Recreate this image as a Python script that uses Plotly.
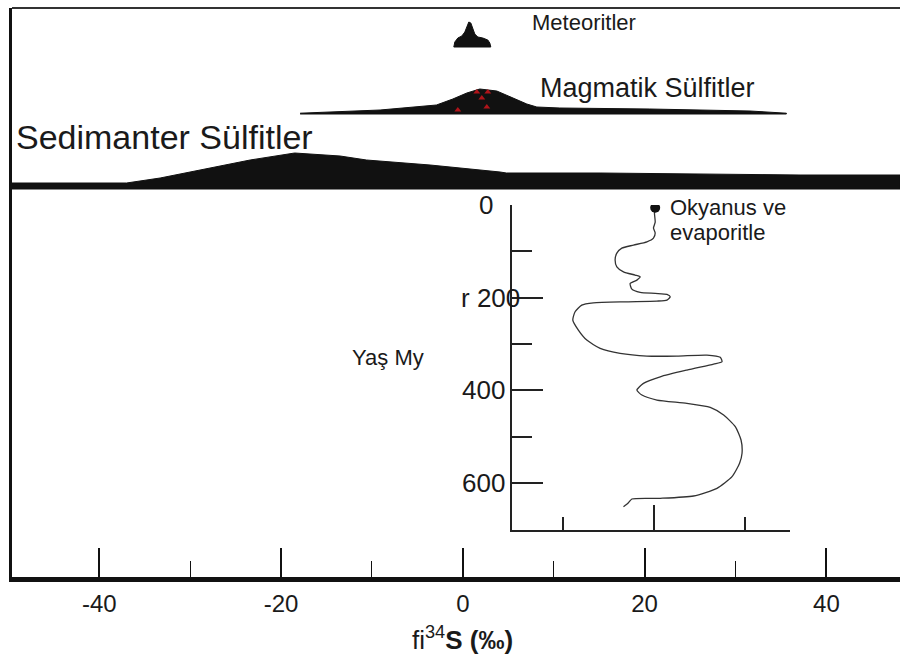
import plotly.graph_objects as go

# ---------------- data ----------------
# delta34S (permil) positions and relative heights of the three source distributions
sed_x = [-49.6, -37.0, -33.3, -28.9, -23.4, -18.5, -13.5, -10.6, -3.6, 4.1, 4.8, 15.1, 26.1, 37.1, 48.1]
sed_h = [6, 6, 11, 19, 29, 36, 33, 29, 24, 17, 16, 16, 15, 14, 14]

mag_x = [-17.9, -9.1, -2.9, -1.1, 0.44, 1.87, 3.74, 5.5, 7.04, 8.14, 10.67, 20.57, 31.6, 35.6]
mag_h = [0.8, 4, 9, 15, 21, 25, 23, 16, 10, 7, 6, 5, 3, 0.8]

met_x = [-0.99, -0.88, -0.55, -0.11, 0.22, 0.44, 0.66, 0.88, 1.1, 1.32, 1.65, 2.2, 2.75, 2.97, 3.08]
met_h = [0, 5, 9, 11, 15, 21, 25, 24, 19, 13, 10, 9, 7, 4, 0]

# red triangles inside the magmatic hump
tri_x = [1.54, 2.75, 2.09, -0.55, 2.64]
tri_h = [22, 22, 16, 4, 7]

# seawater / evaporite delta34S curve vs age (My)
sw_d34 = [20.11, 20.03, 20.11, 19.92, 20.11, 19.92, 19.2, 17.73, 16.45, 15.9, 15.71, 15.9, 16.63,
          17.91, 18.46, 18.10, 17.36, 17.55, 18.46, 20.11, 21.40, 21.76, 21.40, 20.30, 17.0, 13.33,
          12.05, 11.32, 11.07, 11.68, 12.60, 14.07, 16.26, 19.20, 22.49, 25.79, 27.25, 27.44, 26.52,
          23.59, 20.66, 18.82, 18.10, 18.65, 20.30, 23.59, 26.15, 27.62, 28.90, 29.53, 29.64, 29.37,
          28.54, 26.89, 24.32, 20.66, 17.55, 17.18, 16.63]
sw_age = [5.8, 17.3, 36.7, 49.6, 60.4, 71.2, 79.2, 86.3, 92.8, 103.6, 118.7, 133.2, 144.0,
          151.1, 154.8, 161.9, 169.0, 181.3, 188.4, 190.6, 192.7, 197.9, 205.1, 207.2, 208.7, 210.9,
          215.8, 230.3, 248.2, 269.8, 291.4, 309.3, 320.1, 325.9, 325.9, 323.8, 328.7, 338.2, 343.2,
          356.1, 370.6, 384.9, 399.3, 410.1, 420.9, 428.0, 436.7, 453.3, 478.5, 507.2, 535.9, 557.5,
          586.4, 611.5, 628.1, 633.1, 634.6, 642.6, 651.2]

# tick labels
main_tickvals = [-40, -20, 0, 20, 40]
main_ticktext = ["-40", "-20", "0", "20", "40"]
main_minor = [-30, -10, 10, 30]
age_tickvals = [0, 200, 400, 600]
age_ticktext = ["0", "r 200", "400", "600"]

# ---------------- layout constants ----------------
SED_BASE = 388
MAG_BASE = 463
MET_BASE = 530
INK = "#111111"
FONT = "Liberation Sans, Arial, sans-serif"

fig = go.Figure()


def band(xs, hs, base):
    px = list(xs) + list(reversed(xs))
    py = [base + h for h in hs] + [base] * len(xs)
    return px, py


for xs, hs, base in [(sed_x, sed_h, SED_BASE), (mag_x, mag_h, MAG_BASE), (met_x, met_h, MET_BASE)]:
    px, py = band(xs, hs, base)
    fig.add_trace(go.Scatter(x=px, y=py, mode="lines", fill="toself", fillcolor=INK,
                             line=dict(color=INK, width=1), hoverinfo="skip", showlegend=False))

fig.add_trace(go.Scatter(x=tri_x, y=[MAG_BASE + h for h in tri_h], mode="markers",
                         marker=dict(symbol="triangle-up", size=6, color="#b0141a"),
                         hoverinfo="skip", showlegend=False))

fig.add_trace(go.Scatter(x=sw_d34, y=sw_age, xaxis="x2", yaxis="y2", mode="lines",
                         line=dict(color="#333333", width=1.3, shape="spline", smoothing=0.6),
                         showlegend=False))
fig.add_trace(go.Scatter(x=[sw_d34[0]], y=[sw_age[0]], xaxis="x2", yaxis="y2", mode="markers",
                         marker=dict(size=10, color=INK), showlegend=False))

annotations = [
    dict(text="Meteoritler", x=7.37, y=555, xanchor="left", font=dict(size=22)),
    dict(text="Magmatik Sülfitler", x=8.25, y=489, xanchor="left", font=dict(size=27)),
    dict(text="Sedimanter Sülfitler", x=-49.4, y=440, xanchor="left", font=dict(size=34)),
    dict(text="Okyanus ve", x=22.55, y=370, xanchor="left", font=dict(size=22)),
    dict(text="evaporitle", x=22.55, y=345, xanchor="left", font=dict(size=22)),
    dict(text="Yaş My", x=-12.4, y=220, xanchor="left", font=dict(size=22)),
]
for a in annotations:
    a.update(xref="x", yref="y", showarrow=False, yanchor="middle")
    a["font"].update(family=FONT, color="#1a1a1a")

annotations.append(dict(text="fi<sup>34</sup><b>S (‰)</b>", x=0, xref="x", y=-0.108, yref="paper",
                        xanchor="center", yanchor="middle", showarrow=False,
                        font=dict(family=FONT, size=26, color="#1a1a1a")))

label_shift = [-17, 10, -5, -5]
for v, t, s in zip(age_tickvals, age_ticktext, label_shift):
    annotations.append(dict(text=t, x=0, xref="x2 domain", y=v, yref="y2", xanchor="right",
                            yanchor="middle", xshift=s, showarrow=False,
                            font=dict(family=FONT, size=26, color="#1a1a1a")))

fig.update_layout(
    width=900, height=666,
    margin=dict(l=12, r=0, t=8, b=89),
    paper_bgcolor="white", plot_bgcolor="white",
    showlegend=False,
    xaxis=dict(range=[-49.6, 48.1], domain=[0, 1], showgrid=False, zeroline=False,
               showline=True, linewidth=5, linecolor=INK,
               tickmode="array", tickvals=main_tickvals, ticktext=main_ticktext,
               ticks="inside", ticklen=29, tickwidth=1.5, tickcolor=INK,
               minor=dict(tickmode="array", tickvals=main_minor, ticks="inside", ticklen=16,
                          tickwidth=1.3, tickcolor=INK, showgrid=False),
               tickfont=dict(family=FONT, size=24, color="#1a1a1a"), ticklabelstandoff=1),
    yaxis=dict(range=[0, 569], domain=[0, 1], showgrid=False, zeroline=False,
               showline=True, linewidth=3, linecolor=INK, showticklabels=False, ticks=""),
    xaxis2=dict(range=[4.4, 34.9], domain=[0.5631, 0.8761], anchor="y2", showgrid=False,
                zeroline=False, showline=True, linewidth=1.5, linecolor="#222222",
                tick0=0, dtick=20, ticks="inside", ticklen=25, tickwidth=1.5, tickcolor="#222222",
                minor=dict(dtick=10, tick0=0, ticks="inside", ticklen=13, tickwidth=1.5,
                           tickcolor="#222222", showgrid=False),
                showticklabels=False),
    yaxis2=dict(range=[701.5, -0.3], domain=[0.0826, 0.6538], anchor="x2", showgrid=False,
                zeroline=False, showline=True, linewidth=1.5, linecolor="#222222",
                tick0=0, dtick=200, ticks="inside", ticklen=31, tickwidth=1.5, tickcolor="#222222",
                minor=dict(dtick=100, tick0=0, ticks="inside", ticklen=20, tickwidth=1.5,
                           tickcolor="#222222", showgrid=False),
                showticklabels=False),
    annotations=annotations,
    shapes=[dict(type="line", xref="paper", yref="paper", x0=0, x1=1, y0=1, y1=1,
                 line=dict(color="#333333", width=2))],
)

fig.write_html("out.html")
